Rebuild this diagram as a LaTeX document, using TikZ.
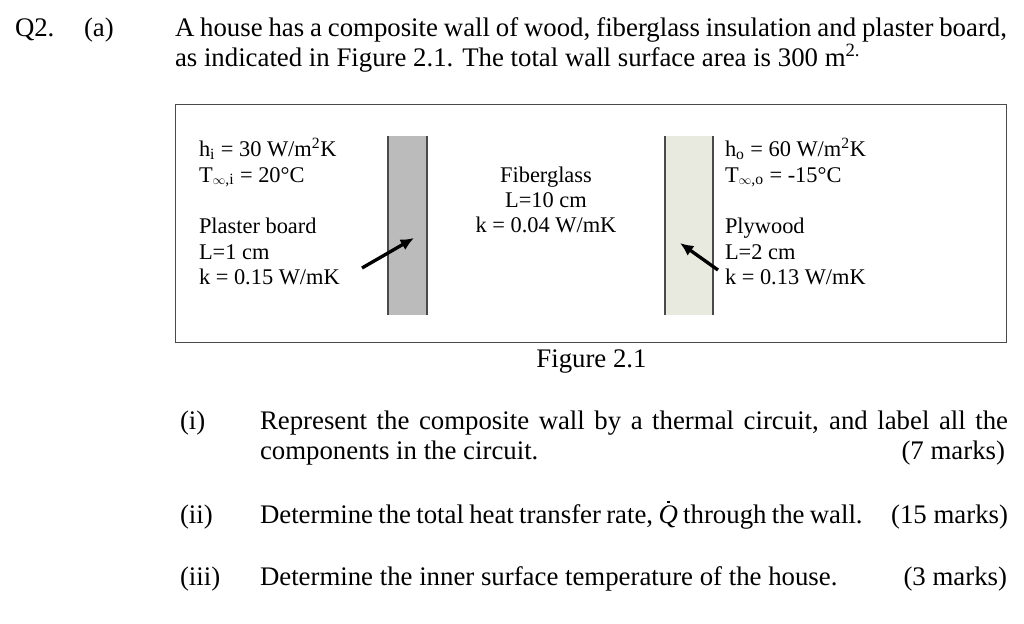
\documentclass[tikz,border=0pt]{standalone}
\usepackage{fontspec}
\setmainfont{Liberation Serif}
\usetikzlibrary{positioning, arrows.meta}
\definecolor{plastergray}{HTML}{BBBBBB}
\definecolor{plywoodtint}{HTML}{E8E9DF}
\definecolor{walledge}{HTML}{4A4A4A}
\tikzset{
    bodytext/.style={anchor=base west, inner sep=0pt, outer sep=0pt, font=\fontsize{20.1}{24}\selectfont},
    marktext/.style={anchor=base east, inner sep=0pt, outer sep=0pt, font=\fontsize{20.1}{24}\selectfont},
    figtext/.style={anchor=base west, inner sep=0pt, outer sep=0pt, font=\fontsize{16.8}{20}\selectfont},
    figcentre/.style={anchor=base, inner sep=0pt, outer sep=0pt, font=\fontsize{16.8}{20}\selectfont},
    walledgeline/.style={draw=walledge, line width=0.9pt},
    heatarrow/.style={-{Latex[length=10pt,width=9pt]}, line width=2.5pt, black}
}
\newcommand{\fullline}[1]{\makebox[#1][s]}
\newcommand{\tinf}[1]{T\textsubscript{\raisebox{0.2ex}{\scalebox{0.8}{$\infty$},#1}}}
\newcommand{\qdot}{\textit{Q}\llap{\rule[0.76em]{1.7pt}{1.7pt}\kern6.2pt}}
\begin{document}
\begin{tikzpicture}[x=0.75pt, y=-0.75pt]
    \useasboundingbox (0,0) rectangle (1024,624);

    % Question heading
    \node[bodytext] (qnum) at (15,36.5) {Q2.};
    \node[bodytext] (qpart) at (84,36.5) {(a)};
    \node[bodytext] (introa) at (175,36.5) {\fullline{624pt}{A house has a composite wall of wood, fiberglass insulation and plaster board,}};
    \node[bodytext] (introb) at (175,66.5) {as indicated in Figure 2.1. The total wall surface area is 300 m\textsuperscript{2.}};

    % Figure frame
    \draw[draw=walledge, line width=0.7pt] (175,104) rectangle (1006,342);

    % Plaster board
    \fill[plastergray] (388,136) rectangle (427,315);
    \draw[walledgeline] (388,136) -- (388,315);
    \draw[walledgeline] (427,136) -- (427,315);

    % Plywood
    \fill[plywoodtint] (665,136) rectangle (713,315);
    \draw[walledgeline] (665,136) -- (665,315);
    \draw[walledgeline] (713,136) -- (713,315);

    % Inside
    \node[figtext] (hin) at (199,156.5) {h\textsubscript{i} = 30 W/m\textsuperscript{2}K};
    \node[figtext] (tin) at (199,182.5) {\tinf{i} = 20°C};
    \node[figtext] (plname) at (199,233.5) {Plaster board};
    \node[figtext] (pllen) at (199,259.5) {L=1 cm};
    \node[figtext] (plk) at (199,284.5) {k = 0.15 W/mK};

    % Fiberglass
    \node[figcentre] (fgname) at (546,182.5) {Fiberglass};
    \node[figcentre] (fglen) at (546,207.5) {L=10 cm};
    \node[figcentre] (fgk) at (546,232.5) {k = 0.04 W/mK};

    % Outside
    \node[figtext] (hout) at (725,156.5) {h\textsubscript{o} = 60 W/m\textsuperscript{2}K};
    \node[figtext] (tout) at (725,182.5) {\tinf{o} = -15°C};
    \node[figtext] (pwname) at (725,233.5) {Plywood};
    \node[figtext] (pwlen) at (725,259.5) {L=2 cm};
    \node[figtext] (pwk) at (725,284.5) {k = 0.13 W/mK};

    % Pointers
    \coordinate (plfrom) at (362,268);
    \coordinate (plto) at (414,238);
    \coordinate (pwfrom) at (718,270);
    \coordinate (pwto) at (680,243);
    \draw[heatarrow] (plfrom) -- (plto);
    \draw[heatarrow] (pwfrom) -- (pwto);

    \node[bodytext, anchor=base] (figcap) at (591.5,367.5) {Figure 2.1};

    % Parts
    \node[bodytext] (parti) at (180,429.5) {(i)};
    \node[bodytext] (partia) at (260,429.5) {\fullline{561pt}{Represent the composite wall by a thermal circuit, and label all the}};
    \node[bodytext] (partib) at (260,459.5) {components in the circuit.};
    \node[marktext] (marki) at (1005,459.5) {(7 marks)};

    \node[bodytext] (partii) at (180,523.5) {(ii)};
    \node[bodytext] (partiia) at (260,523.5) {\fullline{452pt}{Determine the total heat transfer rate, \qdot{} through the wall.}};
    \node[marktext] (markii) at (1008,523.5) {(15 marks)};

    \node[bodytext] (partiii) at (180,585.5) {(iii)};
    \node[bodytext] (partiiia) at (260,585.5) {Determine the inner surface temperature of the house.};
    \node[marktext] (markiii) at (1007,585.5) {(3 marks)};
\end{tikzpicture}
\end{document}
